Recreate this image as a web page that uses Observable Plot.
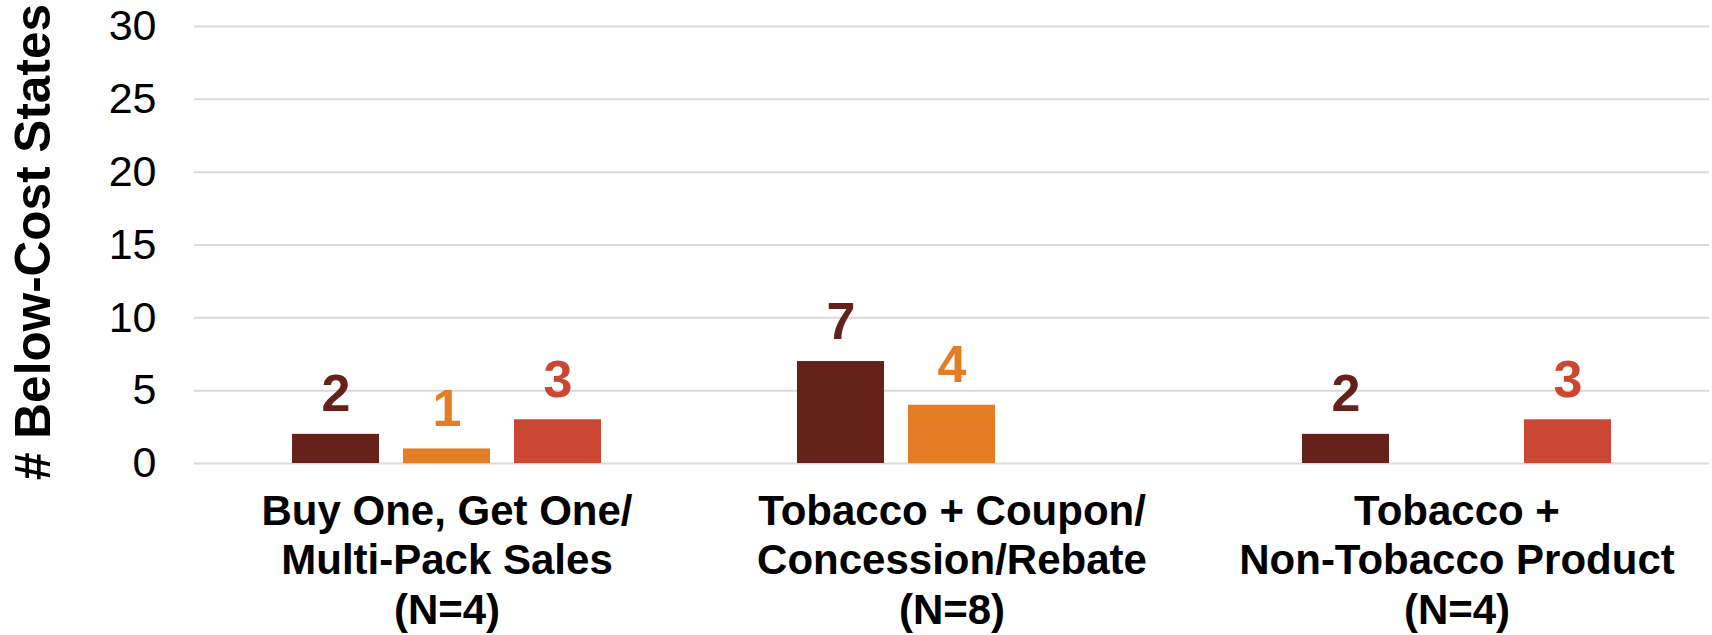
<!DOCTYPE html>
<html><head><meta charset="utf-8">
<script src="https://cdn.jsdelivr.net/npm/d3@7"></script>
<script src="https://cdn.jsdelivr.net/npm/@observablehq/plot@0.6"></script>
<style>html,body{margin:0;padding:0;background:#fff}#chart svg{display:block}</style>
</head><body><div id="chart"></div>
<script>
const categories = [
  "Buy One, Get One/\nMulti-Pack Sales\n(N=4)",
  "Tobacco + Coupon/\nConcession/Rebate\n(N=8)",
  "Tobacco +\nNon-Tobacco Product\n(N=4)"
];
const seriesNames = ["Series 1", "Series 2", "Series 3"];
const series1 = [2, 7, 2];
const series2 = [1, 4, null];
const series3 = [3, null, 3];
const seriesColors = ["#65221A", "#E47D24", "#CB4732"];
const yTicks = [0, 5, 10, 15, 20, 25, 30];
const yTitle = "# Below-Cost States";

const rows = [];
[series1, series2, series3].forEach((vals, si) =>
  vals.forEach((v, ci) => {
    if (v != null) rows.push({category: categories[ci], series: seriesNames[si], value: v});
  })
);

const font = "'Liberation Sans', Arial, Helvetica, sans-serif";
const chart = Plot.plot({
  width: 1712, height: 635,
  marginLeft: 193, marginRight: 3, marginTop: 26, marginBottom: 172,
  style: {fontFamily: font, background: "#fff", color: "#000"},
  fx: {domain: categories, padding: 0, axis: null},
  x: {domain: seriesNames, paddingInner: 0.2143, paddingOuter: 0.863, axis: null},
  y: {domain: [0, 30]},
  color: {domain: seriesNames, range: seriesColors},
  marks: [
    Plot.ruleY(yTicks, {stroke: "#d9d9d9", strokeWidth: 2}),
    Plot.axisY(yTicks, {tickSize: 0, tickPadding: 38, fontSize: 43, label: null, fill: "#000"}),
    Plot.text([yTitle], {fx: () => categories[0], text: d => d, frameAnchor: "left", textAnchor: "middle", lineAnchor: "middle", rotate: -90, dx: -160, dy: -3, fontSize: 49.5, fontWeight: "bold", fill: "#000"}),
    Plot.barY(rows, {fx: "category", x: "series", y: "value", fill: "series"}),
    Plot.text(rows, {fx: "category", x: "series", y: "value", text: d => String(d.value), fill: "series", fontSize: 52, fontWeight: "bold", lineAnchor: "bottom", dy: -23}),
    Plot.text(categories, {fx: d => d, text: d => d, frameAnchor: "bottom", textAnchor: "middle", lineAnchor: "top", dy: 26, fontSize: 42, fontWeight: "bold", lineHeight: 1.18, fill: "#000"})
  ]
});
document.getElementById("chart").appendChild(chart);
</script>
</body></html>
